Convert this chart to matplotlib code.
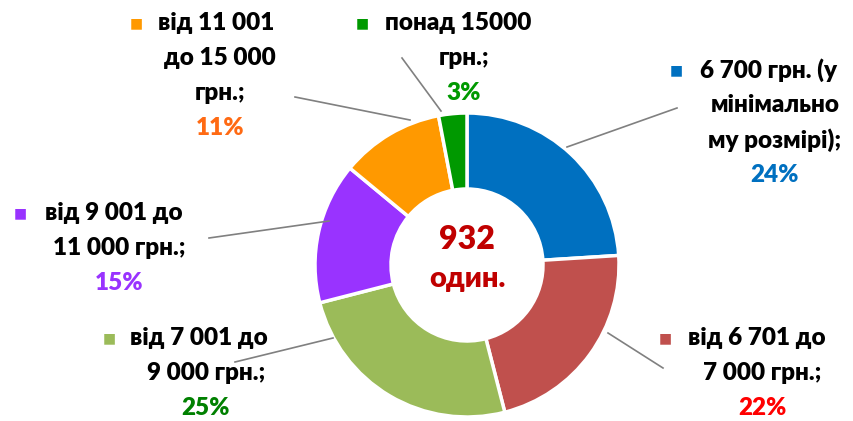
import matplotlib.pyplot as plt
import matplotlib as mpl

mpl.rcParams['font.family'] = ['Lato', 'DejaVu Sans']
mpl.rcParams['font.weight'] = 'heavy'

# data
categories = ['6 700 грн. (у мінімальному розмірі)', 'від 6 701 до 7 000 грн.',
              'від 7 001 до 9 000 грн.', 'від 9 001 до 11 000 грн.',
              'від 11 001 до 15 000 грн.', 'понад 15000 грн.']
shares = [24, 22, 25, 15, 11, 3]
label_lines = [['6 700 грн. (у', 'мінімально', 'му розмірі);'],
               ['від 6 701 до', '7 000 грн.;'],
               ['від 7 001 до', '9 000 грн.;'],
               ['від 9 001 до', '11 000 грн.;'],
               ['від 11 001', 'до 15 000', 'грн.;'],
               ['понад 15000', 'грн.;']]
total_text = ['932', 'один.']

slice_colors = ['#0070C0', '#C0504D', '#9BBB59', '#9933FF', '#FF9900', '#009900']
pct_colors = ['#0070C0', '#FF0000', '#008000', '#9933FF', '#FF6A13', '#009900']

# layout in pixels (y from top): square x, first line y, text left x, center x
layout = [(676, 70, 700, 775),
          (665, 338, 688, 762),
          (109, 338, 130, 206),
          (20, 213, 45, 119),
          (136, 23, 158, 220),
          (362, 23, 385, 464)]
step = 35
leaders = [((567, 147), (677, 108)),
           ((608, 333), (663, 368)),
           ((333, 338), (235, 362)),
           ((329, 221), (209, 238)),
           ((410, 120), (295, 97)),
           ((441, 111), (402, 58))]

W, H = 854, 421
fig = plt.figure(figsize=(W / 100, H / 100), dpi=100)
ax = fig.add_axes([0, 0, 1, 1])

cx, cy, R = 467, H - 265, 152
ax.pie(shares, colors=slice_colors, startangle=90, counterclock=False,
       center=(cx, cy), radius=R, frame=True,
       wedgeprops=dict(width=R * 0.5, edgecolor='white', linewidth=2.5))
ax.set_xlim(0, W)
ax.set_ylim(0, H)
ax.set_aspect('equal')
ax.axis('off')

ax.text(cx, H - 240, total_text[0], ha='center', va='center', fontsize=23, color='#C00000')
ax.text(cx, H - 279, total_text[1], ha='center', va='center', fontsize=21, color='#C00000')

fs = 17.5
for i, lines in enumerate(label_lines):
    sx, y0, tx, mx = layout[i]
    ax.text(sx, H - y0, '■', ha='center', va='center', fontsize=10, color=slice_colors[i])
    ax.text(tx, H - y0, lines[0], ha='left', va='center', fontsize=fs, color='black')
    for k, line in enumerate(lines[1:], start=1):
        ax.text(mx, H - y0 - k * step, line, ha='center', va='center', fontsize=fs, color='black')
    ax.text(mx, H - y0 - len(lines) * step, f'{shares[i]}%', ha='center', va='center',
            fontsize=fs, color=pct_colors[i])
    (x1, y1), (x2, y2) = leaders[i]
    ax.plot([x1, x2], [H - y1, H - y2], color='#808080', linewidth=1.2)

fig.savefig('out.png', dpi=100)
